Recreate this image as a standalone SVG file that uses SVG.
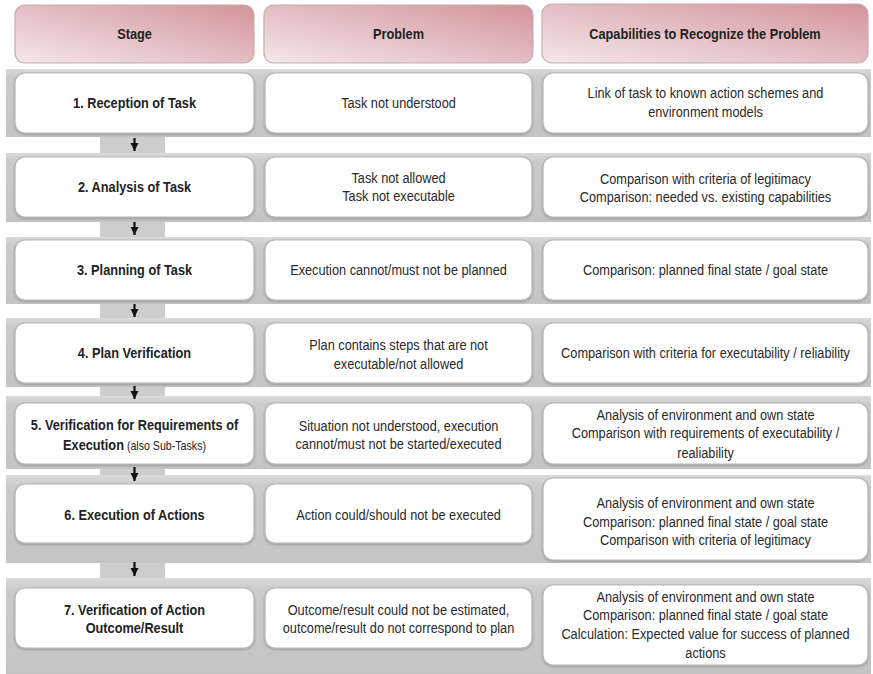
<svg xmlns="http://www.w3.org/2000/svg" width="873" height="674" viewBox="0 0 873 674">
<defs>
<linearGradient id="hdr" x1="0" y1="1" x2="1" y2="0">
<stop offset="0" stop-color="#f4e8ea"/>
<stop offset="1" stop-color="#d3939a"/>
</linearGradient>
<linearGradient id="band" x1="0" y1="0" x2="0" y2="1">
<stop offset="0" stop-color="#dadada"/>
<stop offset="0.12" stop-color="#cbcbcb"/>
<stop offset="1" stop-color="#c4c4c4"/>
</linearGradient>
<filter id="sh" x="-5%" y="-10%" width="110%" height="130%">
<feDropShadow dx="0" dy="1.2" stdDeviation="1" flood-color="#000" flood-opacity="0.25"/>
</filter>
<marker id="ah" viewBox="0 0 10 10" refX="10" refY="5" markerWidth="8" markerHeight="9" markerUnits="userSpaceOnUse" orient="auto">
<path d="M0,0 L10,5 L0,10 z" fill="#111"/>
</marker>
</defs>
<style>
.hd { fill: url(#hdr); stroke: #c4adb0; stroke-width: 1.2; }
.bx { fill: #ffffff; stroke: #b5b5b5; stroke-width: 1.2; filter: url(#sh); }
.band { fill: url(#band); }
.blk { fill: #cdcdcd; }
.t { font-family: "Liberation Sans", Arial, sans-serif; font-size: 15px; text-anchor: middle; fill: #2a2a2a; transform-box: fill-box; transform-origin: center; transform: scaleX(0.85); }
.b { font-weight: bold; fill: #222222; }
.sm { font-size: 12.5px; font-weight: normal; }
.ar { stroke: #111; stroke-width: 2.2; fill: none; marker-end: url(#ah); }
</style>

<g id="background">
<rect class="band" x="6" y="69" width="865" height="68"/>
<rect class="band" x="6" y="153" width="865" height="69"/>
<rect class="band" x="6" y="237" width="865" height="67"/>
<rect class="band" x="6" y="318" width="865" height="69"/>
<rect class="band" x="6" y="396" width="865" height="73"/>
<rect class="band" x="6" y="475" width="865" height="88"/>
<rect class="band" x="6" y="578" width="865" height="96"/>
</g>

<g id="connectors">
<rect class="blk" x="100" y="137" width="65" height="16"/>
<rect class="blk" x="100" y="222" width="65" height="15"/>
<rect class="blk" x="100" y="304" width="65" height="14"/>
<rect class="blk" x="100" y="387" width="65" height="9"/>
<rect class="blk" x="100" y="469" width="65" height="6"/>
<rect class="blk" x="100" y="563" width="65" height="15"/>
<line class="ar" x1="134.5" y1="138" x2="134.5" y2="151"/>
<line class="ar" x1="134.5" y1="222" x2="134.5" y2="235"/>
<line class="ar" x1="134.5" y1="304" x2="134.5" y2="317"/>
<line class="ar" x1="134.5" y1="386" x2="134.5" y2="399"/>
<line class="ar" x1="134.5" y1="467" x2="134.5" y2="481"/>
<line class="ar" x1="134.5" y1="562" x2="134.5" y2="576"/>
</g>

<g id="header-stage">
<rect class="hd" x="15" y="5" width="239" height="58" rx="10"/>
<text class="t b" x="134.5" y="39">Stage</text>
</g>
<g id="header-problem">
<rect class="hd" x="264" y="5" width="269" height="58" rx="10"/>
<text class="t b" x="398.5" y="39">Problem</text>
</g>
<g id="header-capabilities">
<rect class="hd" x="542" y="4" width="326" height="59" rx="10"/>
<text class="t b" x="705" y="39">Capabilities to Recognize the Problem</text>
</g>

<g id="stage-1">
<rect class="bx" x="15" y="73" width="239" height="60" rx="10"/>
<text class="t b" x="134.5" y="108">1. Reception of Task</text>
</g>
<g id="problem-1">
<rect class="bx" x="265" y="73" width="267" height="60" rx="10"/>
<text class="t" x="398.5" y="108">Task not understood</text>
</g>
<g id="capability-1">
<rect class="bx" x="543" y="73" width="325" height="60" rx="10"/>
<text class="t" x="705.5" y="98"><tspan x="705.5" y="98">Link of task to known action schemes and</tspan><tspan x="705.5" y="117">environment models</tspan></text>
</g>

<g id="stage-2">
<rect class="bx" x="15" y="157" width="239" height="60" rx="10"/>
<text class="t b" x="134.5" y="192">2. Analysis of Task</text>
</g>
<g id="problem-2">
<rect class="bx" x="265" y="157" width="267" height="60" rx="10"/>
<text class="t" x="398.5" y="183"><tspan x="398.5" y="183">Task not allowed</tspan><tspan x="398.5" y="201">Task not executable</tspan></text>
</g>
<g id="capability-2">
<rect class="bx" x="543" y="157" width="325" height="60" rx="10"/>
<text class="t" x="705.5" y="184"><tspan x="705.5" y="184">Comparison with criteria of legitimacy</tspan><tspan x="705.5" y="202">Comparison: needed vs. existing capabilities</tspan></text>
</g>

<g id="stage-3">
<rect class="bx" x="15" y="240" width="239" height="60" rx="10"/>
<text class="t b" x="134.5" y="275">3. Planning of Task</text>
</g>
<g id="problem-3">
<rect class="bx" x="265" y="240" width="267" height="60" rx="10"/>
<text class="t" x="398.5" y="275">Execution cannot/must not be planned</text>
</g>
<g id="capability-3">
<rect class="bx" x="543" y="240" width="325" height="60" rx="10"/>
<text class="t" x="705.5" y="275">Comparison: planned final state / goal state</text>
</g>

<g id="stage-4">
<rect class="bx" x="15" y="323" width="239" height="60" rx="10"/>
<text class="t b" x="134.5" y="358">4. Plan Verification</text>
</g>
<g id="problem-4">
<rect class="bx" x="265" y="323" width="267" height="60" rx="10"/>
<text class="t" x="398.5" y="350"><tspan x="398.5" y="350">Plan contains steps that are not</tspan><tspan x="398.5" y="369">executable/not allowed</tspan></text>
</g>
<g id="capability-4">
<rect class="bx" x="543" y="323" width="325" height="60" rx="10"/>
<text class="t" x="705.5" y="358">Comparison with criteria for executability / reliability</text>
</g>

<g id="stage-5">
<rect class="bx" x="15" y="403" width="239" height="61" rx="10"/>
<text class="t b" x="134.5" y="430"><tspan x="134.5" y="430">5. Verification for Requirements of</tspan><tspan x="134.5" y="450">Execution<tspan class="sm"> (also Sub-Tasks)</tspan></tspan></text>
</g>
<g id="problem-5">
<rect class="bx" x="265" y="403" width="267" height="61" rx="10"/>
<text class="t" x="398.5" y="431"><tspan x="398.5" y="431">Situation not understood, execution</tspan><tspan x="398.5" y="449">cannot/must not be started/executed</tspan></text>
</g>
<g id="capability-5">
<rect class="bx" x="543" y="403" width="325" height="61" rx="10"/>
<text class="t" x="705.5" y="420"><tspan x="705.5" y="420">Analysis of environment and own state</tspan><tspan x="705.5" y="438">Comparison with requirements of executability /</tspan><tspan x="705.5" y="458">realiability</tspan></text>
</g>

<g id="stage-6">
<rect class="bx" x="15" y="484" width="239" height="59" rx="10"/>
<text class="t b" x="134.5" y="520">6. Execution of Actions</text>
</g>
<g id="problem-6">
<rect class="bx" x="265" y="484" width="267" height="59" rx="10"/>
<text class="t" x="398.5" y="520">Action could/should not be executed</text>
</g>
<g id="capability-6">
<rect class="bx" x="543" y="478" width="325" height="82" rx="10"/>
<text class="t" x="705.5" y="508"><tspan x="705.5" y="508">Analysis of environment and own state</tspan><tspan x="705.5" y="527">Comparison: planned final state / goal state</tspan><tspan x="705.5" y="545">Comparison with criteria of legitimacy</tspan></text>
</g>

<g id="stage-7">
<rect class="bx" x="15" y="588" width="239" height="60" rx="10"/>
<text class="t b" x="134.5" y="615"><tspan x="134.5" y="615">7. Verification of Action</tspan><tspan x="134.5" y="633">Outcome/Result</tspan></text>
</g>
<g id="problem-7">
<rect class="bx" x="265" y="588" width="267" height="60" rx="10"/>
<text class="t" x="398.5" y="615"><tspan x="398.5" y="615">Outcome/result could not be estimated,</tspan><tspan x="398.5" y="633">outcome/result do not correspond to plan</tspan></text>
</g>
<g id="capability-7">
<rect class="bx" x="543" y="585" width="325" height="80" rx="10"/>
<text class="t" x="705.5" y="602"><tspan x="705.5" y="602">Analysis of environment and own state</tspan><tspan x="705.5" y="620">Comparison: planned final state / goal state</tspan><tspan x="705.5" y="639">Calculation: Expected value for success of planned</tspan><tspan x="705.5" y="658">actions</tspan></text>
</g>
</svg>
